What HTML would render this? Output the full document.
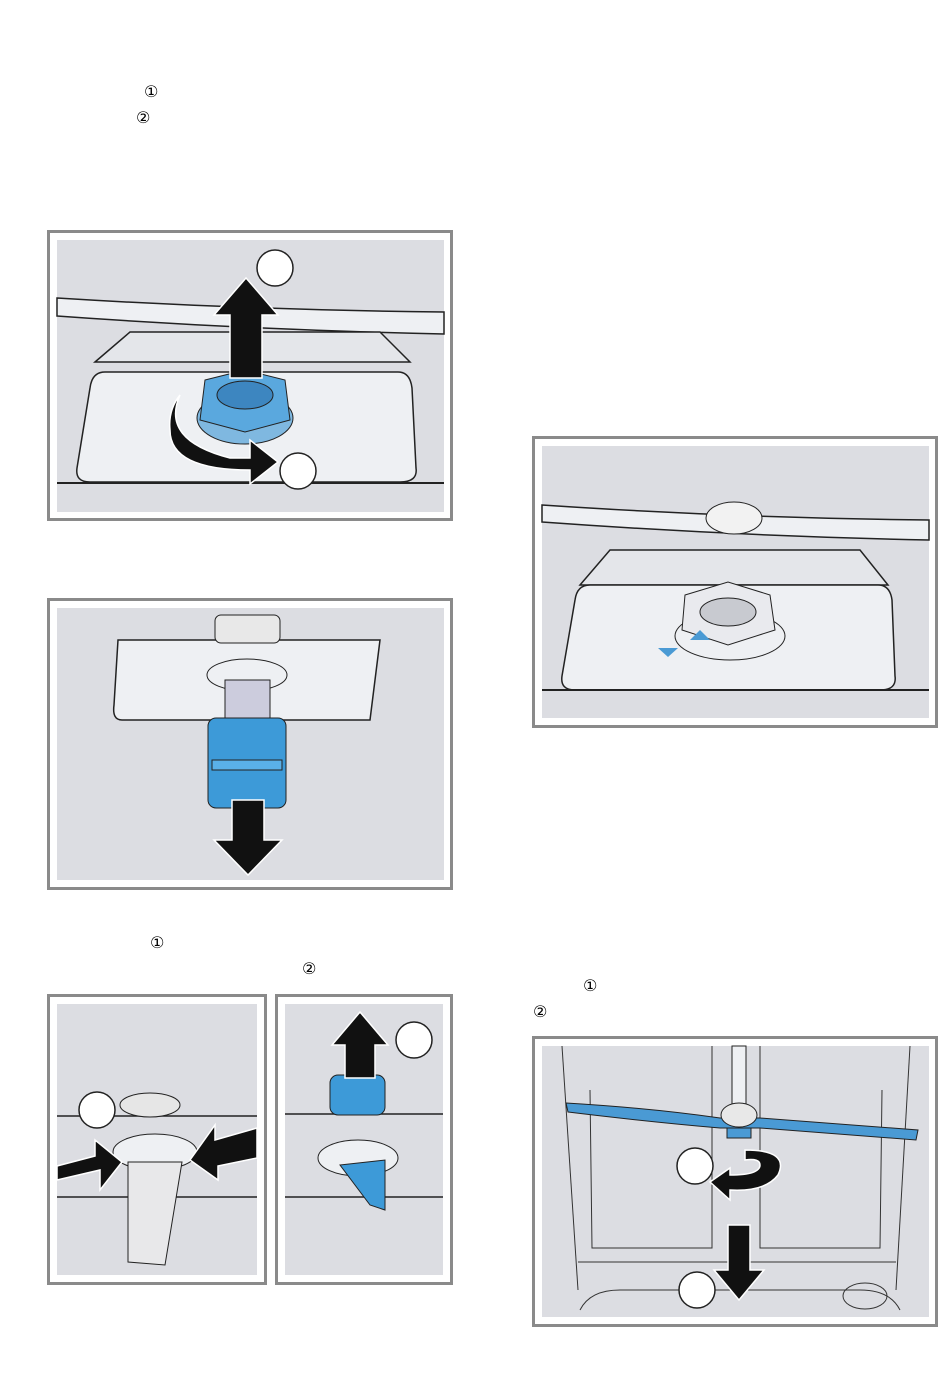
<!DOCTYPE html>
<html><head><style>
body{margin:0;background:#fff;width:950px;height:1392px;overflow:hidden;font-family:"Liberation Sans","DejaVu Sans",sans-serif}
svg{position:absolute;left:0;top:0}
</style></head><body>
<svg width="950" height="1392" viewBox="0 0 950 1392" font-family="Liberation Sans, DejaVu Sans, sans-serif">
<defs>
<g id="fr"></g>
</defs>
<!-- text circled numbers -->
<g font-size="16" fill="#000">
<text x="144" y="97">①</text>
<text x="136" y="123">②</text>
<text x="150" y="948">①</text>
<text x="302" y="974">②</text>
<text x="583" y="991">①</text>
<text x="533" y="1017">②</text>
</g>
<!-- frames -->
<g stroke="#8a8a8a" stroke-width="3" fill="#fff">
<rect x="48.5" y="231.5" width="403" height="288"/>
<rect x="48.5" y="599.5" width="403" height="289"/>
<rect x="533.5" y="437.5" width="403" height="289"/>
<rect x="48.5" y="995.5" width="217" height="288"/>
<rect x="276.5" y="995.5" width="175" height="288"/>
<rect x="533.5" y="1037.5" width="403" height="288"/>
</g>
<g fill="#dcdde2">
<rect x="57" y="240" width="387" height="272"/>
<rect x="57" y="608" width="387" height="272"/>
<rect x="542" y="446" width="387" height="272"/>
<rect x="57" y="1004" width="200" height="271"/>
<rect x="285" y="1004" width="158" height="271"/>
<rect x="542" y="1046" width="387" height="271"/>
</g>
<!-- Panel 1 -->
<g stroke="#222" stroke-width="1.5" fill="#eef0f3">
<path d="M57 298 Q250 310 444 312 L444 334 Q250 330 57 316Z"/>
<path d="M95 362 L130 332 L380 332 L410 362Z" fill="#e4e6ea"/>
<path d="M90 388 Q92 372 105 372 L398 372 Q410 372 412 388 L416 468 Q418 482 400 482 L90 482 Q75 482 77 468Z"/>
</g>
<line x1="57" y1="483" x2="444" y2="483" stroke="#222" stroke-width="2"/>
<ellipse cx="245" cy="418" rx="48" ry="26" fill="#7fb8e0" stroke="#222"/>
<path d="M205 380 L245 370 L285 380 L290 420 L245 432 L200 420Z" fill="#5aa8de" stroke="#222"/>
<ellipse cx="245" cy="395" rx="28" ry="14" fill="#3d86c0" stroke="#222"/>
<path d="M230 378 L230 315 L214 315 L246 278 L278 315 L262 315 L262 378Z" fill="#111" stroke="#fff" stroke-width="1.5"/>
<path d="M180 395 Q160 440 230 458 L250 458 L250 440 L278 462 L250 484 L250 470 Q170 470 170 430 Q168 410 180 395Z" fill="#111" stroke="#fff" stroke-width="1.5"/>
<circle cx="275" cy="268" r="18" fill="#fff" stroke="#222" stroke-width="1.5"/>
<circle cx="298" cy="471" r="18" fill="#fff" stroke="#222" stroke-width="1.5"/>
<!-- Panel 2 -->
<path d="M118 640 L380 640 L370 720 L122 720 Q112 720 114 705Z" fill="#eef0f3" stroke="#222" stroke-width="1.5"/>
<rect x="215" y="615" width="65" height="28" rx="6" fill="#e8e8e8" stroke="#222"/>
<ellipse cx="247" cy="675" rx="40" ry="16" fill="#eef0f3" stroke="#222"/>
<rect x="225" y="680" width="45" height="40" fill="#ccd" stroke="#222"/>
<rect x="208" y="718" width="78" height="90" rx="8" fill="#3d9ad8" stroke="#222"/>
<rect x="212" y="760" width="70" height="10" fill="#5ab0e8" stroke="#222"/>
<path d="M232 800 L232 840 L214 840 L248 875 L282 840 L264 840 L264 800Z" fill="#111" stroke="#fff" stroke-width="1.5"/>
<!-- Panel 3 -->
<g stroke="#222" stroke-width="1.5" fill="#eef0f3">
<path d="M542 505 Q735 518 929 520 L929 540 Q735 536 542 522Z"/>
<path d="M580 585 L610 550 L860 550 L888 585Z" fill="#e4e6ea"/>
<path d="M575 600 Q577 585 590 585 L878 585 Q890 585 892 600 L895 676 Q897 690 880 690 L575 690 Q560 690 562 676Z"/>
</g>
<line x1="542" y1="690" x2="929" y2="690" stroke="#222" stroke-width="2"/>
<ellipse cx="734" cy="518" rx="28" ry="16" fill="#f2f2f2" stroke="#222"/>
<ellipse cx="730" cy="636" rx="55" ry="24" fill="#eef0f3" stroke="#222"/>
<path d="M685 595 L728 582 L770 595 L775 630 L728 645 L682 630Z" fill="#e9eaee" stroke="#222"/>
<ellipse cx="728" cy="612" rx="28" ry="14" fill="#c8cad0" stroke="#222"/>
<path d="M658 648 L678 648 L668 657Z" fill="#4a9ad4"/>
<path d="M690 640 L710 640 L700 630Z" fill="#4a9ad4"/>
<!-- Panel 4a -->
<line x1="57" y1="1116" x2="257" y2="1116" stroke="#222" stroke-width="1.5"/>
<line x1="57" y1="1197" x2="257" y2="1197" stroke="#222" stroke-width="1.5"/>
<ellipse cx="150" cy="1105" rx="30" ry="12" fill="#e6e6e6" stroke="#222"/>
<ellipse cx="155" cy="1152" rx="42" ry="18" fill="#eef0f3" stroke="#222"/>
<path d="M128 1162 L182 1162 L165 1265 L128 1262Z" fill="#e8e8ea" stroke="#222"/>
<path d="M57 1180 L100 1170 L100 1190 L122 1162 L95 1140 L95 1156 L57 1166Z" fill="#111" stroke="#fff" stroke-width="1.5"/>
<path d="M257 1128 L215 1140 L215 1125 L190 1160 L218 1180 L218 1166 L257 1158Z" fill="#111" stroke="#fff" stroke-width="1.5"/>
<circle cx="97" cy="1110" r="18" fill="#fff" stroke="#222" stroke-width="1.5"/>
<!-- Panel 4b -->
<line x1="285" y1="1114" x2="443" y2="1114" stroke="#222" stroke-width="1.5"/>
<line x1="285" y1="1197" x2="443" y2="1197" stroke="#222" stroke-width="1.5"/>
<rect x="330" y="1075" width="55" height="40" rx="8" fill="#3d9ad8" stroke="#222"/>
<path d="M345 1078 L345 1045 L332 1045 L360 1012 L388 1045 L375 1045 L375 1078Z" fill="#111" stroke="#fff" stroke-width="1.5"/>
<ellipse cx="358" cy="1158" rx="40" ry="18" fill="#eef0f3" stroke="#222"/>
<path d="M340 1165 L385 1160 L385 1210 L370 1205Z" fill="#3d9ad8" stroke="#222"/>
<circle cx="414" cy="1040" r="18" fill="#fff" stroke="#222" stroke-width="1.5"/>
<!-- Panel 5 -->
<g stroke="#333" stroke-width="1" fill="none">
<path d="M562 1046 L578 1290"/><path d="M910 1046 L896 1290"/>
<path d="M590 1090 L592 1248 L712 1248 L712 1046"/>
<path d="M760 1046 L760 1248 L880 1248 L882 1090"/>
<path d="M578 1262 L896 1262"/>
<path d="M580 1310 Q590 1290 620 1290 L860 1290 Q890 1290 900 1310"/>
<ellipse cx="865" cy="1296" rx="22" ry="13"/>
</g>
<rect x="732" y="1046" width="14" height="60" fill="#eef0f3" stroke="#222"/>
<path d="M566 1103 Q650 1108 720 1118 L760 1118 Q850 1125 918 1130 L916 1140 Q850 1135 760 1128 L720 1128 Q650 1122 568 1112Z" fill="#4a9ad4" stroke="#222"/>
<ellipse cx="739" cy="1115" rx="18" ry="12" fill="#e8e8e8" stroke="#222"/>
<rect x="727" y="1128" width="24" height="10" fill="#4a9ad4" stroke="#222"/>
<path d="M745 1150 Q790 1150 778 1175 Q765 1192 730 1190 L730 1200 L710 1182 L730 1168 L730 1175 Q760 1175 760 1165 Q760 1158 745 1160Z" fill="#111" stroke="#fff" stroke-width="1.5"/>
<path d="M728 1225 L728 1270 L714 1270 L739 1300 L764 1270 L750 1270 L750 1225Z" fill="#111" stroke="#fff" stroke-width="1.5"/>
<circle cx="695" cy="1166" r="18" fill="#fff" stroke="#222" stroke-width="1.5"/>
<circle cx="697" cy="1290" r="18" fill="#fff" stroke="#222" stroke-width="1.5"/>
</svg>
</body></html>
